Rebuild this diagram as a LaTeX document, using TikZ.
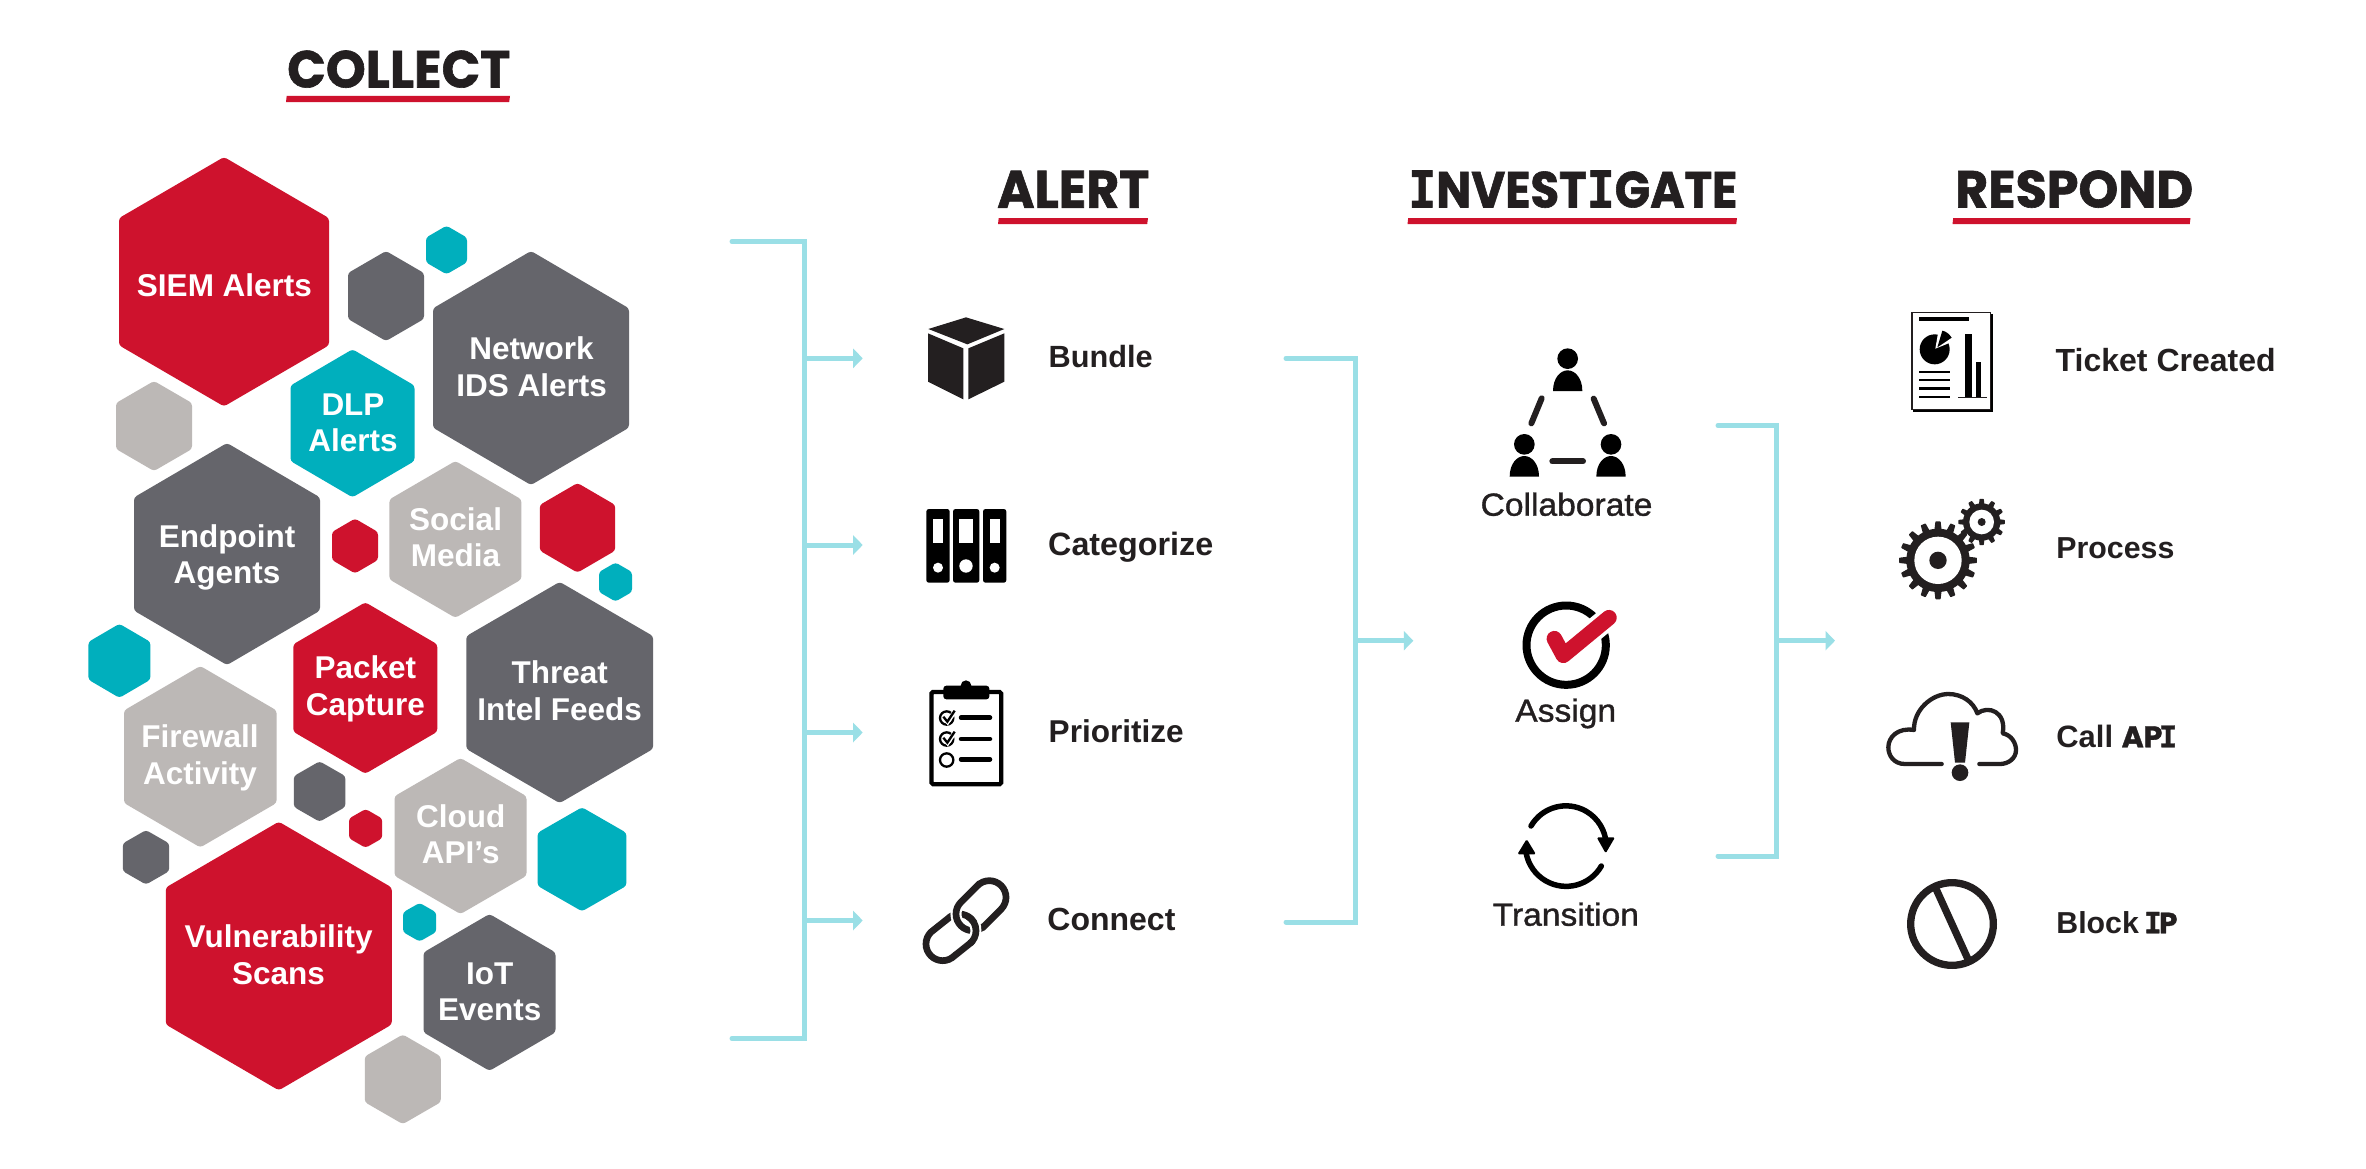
\documentclass[tikz,border=0pt]{standalone}
\usepackage{fontspec}
\usepackage{graphicx}
\usetikzlibrary{arrows.meta}
\setmainfont{Liberation Sans}
\newfontfamily\medf{Liberation Sans}[FakeStretch=1.05,FakeBold=1.1]
\newfontfamily\headf{Poppins}[BoldFeatures={FakeBold=1.2}]
\newfontfamily\slabf{DejaVu Sans Mono}[BoldFeatures={FakeBold=1.2}]
\newcommand\hI{{\slabf\bfseries I}}
\newcommand\hIn{\kern-.11em{\slabf\bfseries I}\kern-.09em}
\definecolor{hred}{HTML}{CE122D}
\definecolor{hgrey}{HTML}{65656B}
\definecolor{hlight}{HTML}{BCB8B6}
\definecolor{hteal}{HTML}{00AFBD}
\definecolor{brk}{HTML}{9ADFE6}
\definecolor{ink}{HTML}{231F20}
\tikzset{
  zm/.style 2 args={shift={(#1,#2)},x=0.33333pt,y=-0.33333pt},
  hextext/.style={anchor=base,inner sep=0pt,align=center,text=white,font=\fontsize{31.5}{36.4}\selectfont\bfseries},
  itemlabel/.style={anchor=base west,inner sep=0pt,text=ink,font=\fontsize{31}{36}\selectfont\bfseries},
  centerlabel/.style={anchor=base,inner sep=0pt,text=ink,font=\fontsize{32}{36}\selectfont\medf},
  headnode/.style={anchor=south west,inner sep=0pt,text=ink},
  bracket/.style={draw=brk,line width=5pt,line cap=round,line join=miter},
  flow/.style={draw=brk,line width=5pt,-{Triangle[length=9.5pt,width=19pt]}},
}
% name cx cy halfwidth halfheight colour
\newcommand\hexa[6]{%
  \coordinate (#1) at (#2,#3);
  \fill[#6,rounded corners=3pt]
    ({#2},{#3-#5}) -- ({#2+#4},{#3-0.51*#5}) -- ({#2+#4},{#3+0.51*#5}) --
    ({#2},{#3+#5}) -- ({#2-#4},{#3+0.51*#5}) -- ({#2-#4},{#3-0.51*#5}) -- cycle;
}
% name x-left baseline width text | rule-left rule-right rule-top
\newcommand\headline[8]{%
  \node[headnode] (#1) at (#2,#3) {\resizebox{#4pt}{37pt}{\headf\bfseries #5}};
  \fill[hred] ({#6+0.7},#8) -- ({#7},#8) -- ({#7-0.8},{#8+6.2}) -- ({#6},{#8+6.2}) -- cycle;
}
\newcommand\gear[7]{% cx cy n rbody rtip rhole rdot
  \foreach \i in {1,...,#3}{
    \pgfmathsetmacro\ga{\i*360/#3}
    \pgfmathsetmacro\gb{0.30*360/#3}
    \pgfmathsetmacro\gc{0.17*360/#3}
    \fill[ink,rounded corners=0.6pt] ([shift={(\ga-\gb:#4-3)}]#1,#2) -- ([shift={(\ga-\gc:#5)}]#1,#2) -- ([shift={(\ga+\gc:#5)}]#1,#2) -- ([shift={(\ga+\gb:#4-3)}]#1,#2) -- cycle;
  }
  \fill[ink] (#1,#2) circle[radius=#4];
  \fill[white] (#1,#2) circle[radius=#6];
  \fill[ink] (#1,#2) circle[radius=#7];
}
\newcommand\person[2]{% head centre
  \fill[black] (#1,#2) circle[radius=31];
  \fill[black] ({#1-44},{#2+97}) .. controls ({#1-44},{#2+58}) and ({#1-22},{#2+35}) .. ({#1},{#2+35})
     .. controls ({#1+22},{#2+35}) and ({#1+44},{#2+58}) .. ({#1+44},{#2+97}) -- cycle;
}
\begin{document}
\begin{tikzpicture}[x=1pt,y=-1pt]
\fill[white] (0,0) rectangle (2366,1168);
\useasboundingbox (0,0) rectangle (2366,1168);

% ---------- headings
\headline{hcollect}{287}{88}{223}{COLLECT}{286}{510}{95.8}
\headline{halert}{997}{208}{152}{ALERT}{998}{1148}{218}
\headline{hinvest}{1408}{208}{329}{\hI NVEST\hI GATE}{1407.5}{1737}{218}
\headline{hrespond}{1955}{208}{238}{RESPOND}{1952.5}{2190.5}{218}

% ---------- hexagons
\hexa{siem}{224}{281.7}{105}{124.7}{hred}
\hexa{sg1}{386}{296}{38}{45}{hgrey}
\hexa{st1}{446.5}{250}{20.5}{24.3}{hteal}
\hexa{net}{531}{368}{98}{117}{hgrey}
\hexa{dlp}{352.5}{423.3}{62}{74}{hteal}
\hexa{sl1}{154}{426}{38}{45}{hlight}
\hexa{endp}{227}{554}{93}{111}{hgrey}
\hexa{sr1}{355}{546}{23}{27.4}{hred}
\hexa{soc}{455.4}{539.4}{66}{78.4}{hlight}
\hexa{sr2}{577.5}{527.8}{37.7}{44.8}{hred}
\hexa{st2}{615.5}{582}{16.5}{19.5}{hteal}
\hexa{threat}{559.7}{692.5}{93.4}{110.6}{hgrey}
\hexa{packet}{365.3}{688}{72}{85.7}{hred}
\hexa{st3}{119.4}{660.8}{31}{37}{hteal}
\hexa{fire}{200.3}{756.7}{76.3}{90.7}{hlight}
\hexa{sg2}{319.6}{791.5}{25.8}{30.2}{hgrey}
\hexa{sr3}{365.6}{828.4}{16.6}{19.4}{hred}
\hexa{cloud}{460.5}{836}{66}{78}{hlight}
\hexa{st4}{582}{859.3}{44.4}{52}{hteal}
\hexa{sg3}{146}{857.3}{23.2}{27.2}{hgrey}
\hexa{vuln}{278.8}{956}{113}{134.3}{hred}
\hexa{st5}{419.6}{922.2}{16.6}{19.3}{hteal}
\hexa{iot}{489.5}{992.4}{66}{78.4}{hgrey}
\hexa{sl2}{402.8}{1079.3}{38}{44.8}{hlight}

% ---------- hexagon labels (anchored on the baseline of the last line)
\node[hextext] (tsiem) at (224.5,296.6) {SIEM Alerts};
\node[hextext] (tnet) at (531.6,396) {Network\\IDS Alerts};
\node[hextext] (tdlp) at (353,451.6) {DLP\\Alerts};
\node[hextext] (tendp) at (227,583.6) {Endpoint\\Agents};
\node[hextext] (tsoc) at (455.6,566.4) {Social\\Media};
\node[hextext] (tpack) at (365.3,715.3) {Packet\\Capture};
\node[hextext] (tthreat) at (559.7,720.3) {Threat\\Intel Feeds};
\node[hextext] (tfire) at (200,784.2) {Firewall\\Activity};
\node[hextext] (tcloud) at (460.7,863.8) {Cloud\\API's};
\node[hextext] (tvuln) at (278.6,984) {Vulnerability\\Scans};
\node[hextext] (tiot) at (489.8,1020.4) {IoT\\Events};

% ---------- connectors
\coordinate (b1a) at (732,241.5);
\coordinate (b1k1) at (804.5,241.5);
\coordinate (b1k2) at (804.5,1038.5);
\coordinate (b1b) at (732,1038.5);
\draw[bracket] (b1a) -- (b1k1) -- (b1k2) -- (b1b);
\foreach \n/\y in {1/358.3,2/545,3/732.5,4/920.5}{
  \coordinate (s\n) at (804.5,\y);
  \coordinate (e\n) at (862.7,\y);
  \draw[flow] (s\n) -- (e\n);
}
\coordinate (b2a) at (1286,358.3);
\coordinate (b2k1) at (1355,358.3);
\coordinate (b2k2) at (1355,922);
\coordinate (b2b) at (1286,922);
\draw[bracket] (b2a) -- (b2k1) -- (b2k2) -- (b2b);
\coordinate (b2s) at (1355,640.7);
\coordinate (b2e) at (1413.3,640.7);
\draw[flow] (b2s) -- (b2e);
\coordinate (b3a) at (1718,425.5);
\coordinate (b3k1) at (1776,425.5);
\coordinate (b3k2) at (1776,856);
\coordinate (b3b) at (1718,856);
\draw[bracket] (b3a) -- (b3k1) -- (b3k2) -- (b3b);
\coordinate (b3s) at (1776,640.7);
\coordinate (b3e) at (1835,640.7);
\draw[flow] (b3s) -- (b3e);

% ---------- item labels
\node[itemlabel] (lbundle) at (1048.5,367.7) {\resizebox{104pt}{!}{Bundle}};
\node[itemlabel] (lcateg) at (1048,555) {\resizebox{165pt}{!}{Categorize}};
\node[itemlabel] (lprio) at (1048.5,742.7) {\resizebox{135pt}{!}{Prioritize}};
\node[itemlabel] (lconn) at (1047.2,930.7) {\resizebox{128pt}{!}{Connect}};
\node[centerlabel] (lcoll) at (1566.5,515.7) {Collaborate};
\node[centerlabel] (lassign) at (1565.7,721.7) {Assign};
\node[centerlabel] (ltrans) at (1565.8,925.7) {Transition};
\node[itemlabel] (lticket) at (2055.5,371.7) {\resizebox{220pt}{!}{Ticket Created}};
\node[itemlabel] (lproc) at (2056.2,558.3) {\resizebox{118pt}{!}{Process}};
\node[itemlabel] (lcall) at (2056.2,747.3) {\resizebox{118pt}{!}{Call {\headf\bfseries\fontsize{30}{36}\selectfont AP\hIn}}};
\node[itemlabel] (lblock) at (2056.2,933.3) {\resizebox{121pt}{!}{Block {\headf\bfseries\fontsize{30}{36}\selectfont\hIn P}}};

% ---------- icon: bundle
\begin{scope}[zm={880}{280}]
  \fill[ink] (258,112) -- (373,147) -- (262,193) -- (145,147) -- cycle;
  \fill[ink] (144,160) -- (250,205) -- (250,358) -- (144,305) -- cycle;
  \fill[ink] (265,205) -- (373,160) -- (373,305) -- (265,358) -- cycle;
  % binders
  \foreach \xa/\xb/\wa/\wb/\cx/\cy/\cr in {139/209/159/189/174/863/15,219/298/238/279/258/858/20,309/379/329/359/344/863/15}{
    \fill[black,rounded corners=2.5pt] (\xa,687) rectangle (\xb,908);
    \fill[white] (\wa,717) rectangle (\wb,788);
    \fill[white] (\cx,\cy) circle[radius=\cr];
  }
\end{scope}

% ---------- icon: clipboard and link
\begin{scope}[zm={880}{640}]
  \draw[black,line width=4.3pt,rounded corners=1.5pt] (154.5,156) rectangle (363.5,432.5);
  \fill[black,rounded corners=3pt] (190,178) -- (190,137) -- (328,137) -- (328,178) -- cycle;
  \fill[black] (258,137) circle[radius=16];
  \foreach \y in {234,297}{
    \draw[black,line width=2.3pt] (200,\y) circle[radius=20];
    \draw[white,line width=4.5pt] (193,\y-2) -- (203,\y+11) -- (226,\y-22);
    \draw[black,line width=2.3pt] (190,\y-4) -- (202,\y+11) -- (224,\y-22);
  }
  \draw[black,line width=2.3pt] (200,360) circle[radius=20];
  \foreach \y in {233,297,358}{
    \draw[black,line width=4.5pt,line cap=round] (243,\y) -- (330,\y);
  }
  % link
  \draw[ink,line width=6.7pt] (223.4,947.4) -- (273.4,907.4) arc[start angle=45,delta angle=-180,radius=50] -- (152.6,876.6) arc[start angle=225,delta angle=-180,radius=50] -- cycle;
  \draw[white,line width=11pt] (313.4,857.4) -- (363.4,807.4) arc[start angle=45,delta angle=-180,radius=50] -- (242.6,786.6) arc[start angle=225,delta angle=-180,radius=50] -- cycle;
  \draw[ink,line width=6.7pt] (313.4,857.4) -- (363.4,807.4) arc[start angle=45,delta angle=-180,radius=50] -- (292.6,736.6) -- (242.6,786.6) arc[start angle=225,delta angle=-180,radius=50] -- cycle;
  \draw[white,line width=11pt] (238,872) ++(-30:50) arc[start angle=-30,delta angle=70,radius=50];
  \draw[ink,line width=6.7pt] (238,872) ++(-60:50) arc[start angle=-60,delta angle=110,radius=50];
\end{scope}

% ---------- icon: collaborate
\begin{scope}[zm={1460}{320}]
  \person{323}{116}
  \person{193}{373}
  \person{453}{373}
  \draw[ink,line width=6pt,line cap=round] (245,235) -- (214,310);
  \draw[ink,line width=6pt,line cap=round] (401,236) -- (432,310);
  \draw[ink,line width=6pt,line cap=round] (277,424) -- (369,424);
\end{scope}

% ---------- icon: assign and transition
\begin{scope}[zm={1460}{580}]
  \draw[black,line width=8pt] (318.5,195.5) circle[radius=119];
  \draw[white,line width=23pt] (325,213) -- (480,85);
  \draw[hred,line width=15.5pt,line cap=round,line join=round] (283,176) -- (310,226) -- (447,113);
  % transition
  \draw[black,line width=5.5pt,line cap=round] (213,738) arc[start angle=-150,delta angle=147,radius=121];
  \fill[black,rounded corners=1.5pt] (410,772) -- (465,772) -- (437,820) -- cycle;
  \draw[black,line width=5.5pt,line cap=round] (424,858) arc[start angle=30,delta angle=140,radius=122];
  \fill[black,rounded corners=1.5pt] (172,823) -- (228,823) -- (200,777) -- cycle;
\end{scope}

% ---------- icon: ticket and gears
\begin{scope}[zm={1860}{290}]
  \draw[black,line width=2.5pt] (160,362) -- (396,362) -- (396,72);
  \draw[ink,line width=1.3pt] (156,68) rectangle (392,358);
  \fill[black] (178,82) rectangle (327,94);
  \fill[black] (224,178) circle[radius=45];
  \fill[white] (226,176) -- (236,118) -- (290,150) -- cycle;
  \fill[black] (247,122) .. controls (258,124) and (268,132) .. (275,143) -- (232,172) -- cycle;
  \foreach \y in {245,270,295,320}{
    \fill[black] (178,\y-3.5) rectangle (270,\y+3.5);
  }
  \fill[black] (315,132) rectangle (337,325);
  \fill[black] (347,217) rectangle (362,325);
  \draw[ink,line width=1pt] (295,323.5) -- (381,323.5);
  \gear{234}{811}{16}{95}{117}{71}{26}
  \gear{365}{696}{12}{56}{70}{37}{12}
\end{scope}

% ---------- icon: cloud and block
\begin{scope}[zm={1860}{670}]
  \draw[ink,line width=4.3pt,line cap=round,line join=round]
    (245,282) -- (135,282) .. controls (100,282) and (85,255) .. (85,232)
    .. controls (85,200) and (115,172) .. (162,180)
    .. controls (160,120) and (215,72) .. (265,72)
    .. controls (305,72) and (340,95) .. (352,130)
    .. controls (385,105) and (440,125) .. (428,190)
    .. controls (455,195) and (468,220) .. (468,240)
    .. controls (468,265) and (445,282) .. (420,282) -- (358,282);
  \fill[ink] (272,157) -- (328,157) -- (315,278) -- (285,278) -- cycle;
  \fill[ink] (300,308) circle[radius=25];
  \draw[ink,line width=7.3pt] (276,762) circle[radius=124];
  \draw[ink,line width=7.3pt] (225,650) -- (325,870);
\end{scope}
\end{tikzpicture}
\end{document}
